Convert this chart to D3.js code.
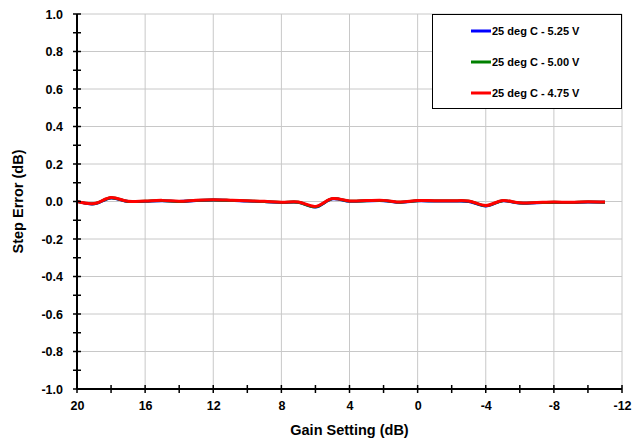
<!DOCTYPE html>
<html><head><meta charset="utf-8">
<script src="https://cdn.jsdelivr.net/npm/d3@7"></script>
<style>
html,body{margin:0;padding:0;background:#fff;}
text{font-family:"Liberation Sans",Arial,sans-serif;font-weight:bold;fill:#000;}
</style></head>
<body>
<svg id="c" width="634" height="442"></svg>
<script>
const gain = [20,19,18,17,16,15,14,13,12,11,10,9,8,7,6,5,4,3,2,1,0,-1,-2,-3,-4,-5,-6,-7,-8,-9,-10,-11];
const v525 = [0.000,-0.013,0.018,0.000,0.001,0.004,0.000,0.005,0.008,0.006,0.002,-0.001,-0.006,-0.005,-0.030,0.014,0.001,0.003,0.004,-0.005,0.003,0.002,0.002,0.000,-0.024,0.003,-0.009,-0.007,-0.005,-0.006,-0.003,-0.004];
const v500 = [0.000,-0.012,0.020,0.000,0.002,0.005,0.000,0.006,0.008,0.006,0.003,0.000,-0.005,-0.004,-0.029,0.015,0.002,0.004,0.005,-0.004,0.004,0.003,0.003,0.002,-0.023,0.004,-0.008,-0.006,-0.004,-0.005,-0.002,-0.004];
const v475 = [0.000,-0.011,0.021,0.001,0.003,0.006,0.001,0.007,0.009,0.007,0.004,0.001,-0.004,-0.003,-0.026,0.016,0.003,0.005,0.006,-0.003,0.005,0.004,0.004,0.003,-0.021,0.005,-0.007,-0.005,-0.003,-0.004,-0.001,-0.003];
const seriesNames = ["25 deg C - 5.25 V","25 deg C - 5.00 V","25 deg C - 4.75 V"];
const seriesColors = ["#0000FF","#008000","#FF0000"];
const xTicks = [20,16,12,8,4,0,-4,-8,-12];
const xMinor = [18,14,10,6,2,-2,-6,-10];
const yTicks = [1.0,0.8,0.6,0.4,0.2,0.0,-0.2,-0.4,-0.6,-0.8,-1.0];
const yMinor = [0.9,0.7,0.5,0.3,0.1,-0.1,-0.3,-0.5,-0.7,-0.9];

const svg = d3.select("#c");
const L=77,R=622,T=14,B=389;
const x = d3.scaleLinear().domain([20,-12]).range([L,R]);
const y = d3.scaleLinear().domain([-1,1]).range([B,T]);

// grid
svg.append("g").selectAll("line").data(xTicks.slice(1)).join("line")
  .attr("x1",d=>x(d)).attr("x2",d=>x(d)).attr("y1",T).attr("y2",B)
  .attr("stroke","#c8c8c8").attr("stroke-width",1);
svg.append("g").selectAll("line").data(yTicks.slice(0,-1)).join("line")
  .attr("x1",L).attr("x2",R).attr("y1",d=>y(d)).attr("y2",d=>y(d))
  .attr("stroke","#c8c8c8").attr("stroke-width",1);

// series
const line = d3.line().x(d=>x(d[0])).y(d=>y(d[1])).curve(d3.curveCatmullRom.alpha(0.5));
[v525,v500,v475].forEach((vals,i)=>{
  svg.append("path").datum(gain.map((g,j)=>[g,vals[j]]))
    .attr("d",line).attr("fill","none").attr("stroke",seriesColors[i])
    .attr("stroke-width",i===2?3:2.8).attr("stroke-linejoin","round");
});

// axes
const xa = svg.append("g").attr("transform",`translate(0,${B})`)
  .call(d3.axisBottom(x).tickValues(xTicks).tickSize(0).tickPadding(12).tickFormat(d=>String(d)));
xa.select(".domain").remove();
xa.selectAll("text").style("font-size","12.5px").attr("dy","0.71em");
const ya = svg.append("g").attr("transform",`translate(${L},0)`)
  .call(d3.axisLeft(y).tickValues(yTicks).tickSize(0).tickPadding(14).tickFormat(d=>d.toFixed(1)));
ya.select(".domain").remove();
ya.selectAll("text").style("font-size","12.5px");

svg.append("g").selectAll("line").data(xTicks.concat(xMinor)).join("line")
  .attr("x1",d=>x(d)).attr("x2",d=>x(d)).attr("y1",B-4).attr("y2",B+4)
  .attr("stroke","#000").attr("stroke-width",1.5);
svg.append("g").selectAll("line").data(yTicks.concat(yMinor)).join("line")
  .attr("x1",L-4).attr("x2",L+4).attr("y1",d=>y(d)).attr("y2",d=>y(d))
  .attr("stroke","#000").attr("stroke-width",1.5);
svg.append("line").attr("x1",L).attr("x2",R).attr("y1",B).attr("y2",B).attr("stroke","#000").attr("stroke-width",2);
svg.append("line").attr("x1",L).attr("x2",L).attr("y1",T).attr("y2",B).attr("stroke","#000").attr("stroke-width",2);

// titles
svg.append("text").attr("x",(L+R)/2).attr("y",435).attr("text-anchor","middle")
  .style("font-size","14.5px").text("Gain Setting (dB)");
svg.append("text").attr("transform",`translate(23,${(T+B)/2}) rotate(-90)`).attr("text-anchor","middle")
  .style("font-size","14.5px").text("Step Error (dB)");

// legend
const lg = svg.append("g");
lg.append("rect").attr("x",432.5).attr("y",14.5).attr("width",189).attr("height",94)
  .attr("fill","#fff").attr("stroke","#000").attr("stroke-width",1);
seriesNames.forEach((n,i)=>{
  const yy = 31 + i*31;
  lg.append("line").attr("x1",471).attr("x2",491).attr("y1",yy).attr("y2",yy)
    .attr("stroke",seriesColors[i]).attr("stroke-width",3);
  lg.append("text").attr("x",492).attr("y",yy).attr("dy","0.35em")
    .style("font-size","11px").text(n);
});
</script>
</body></html>
